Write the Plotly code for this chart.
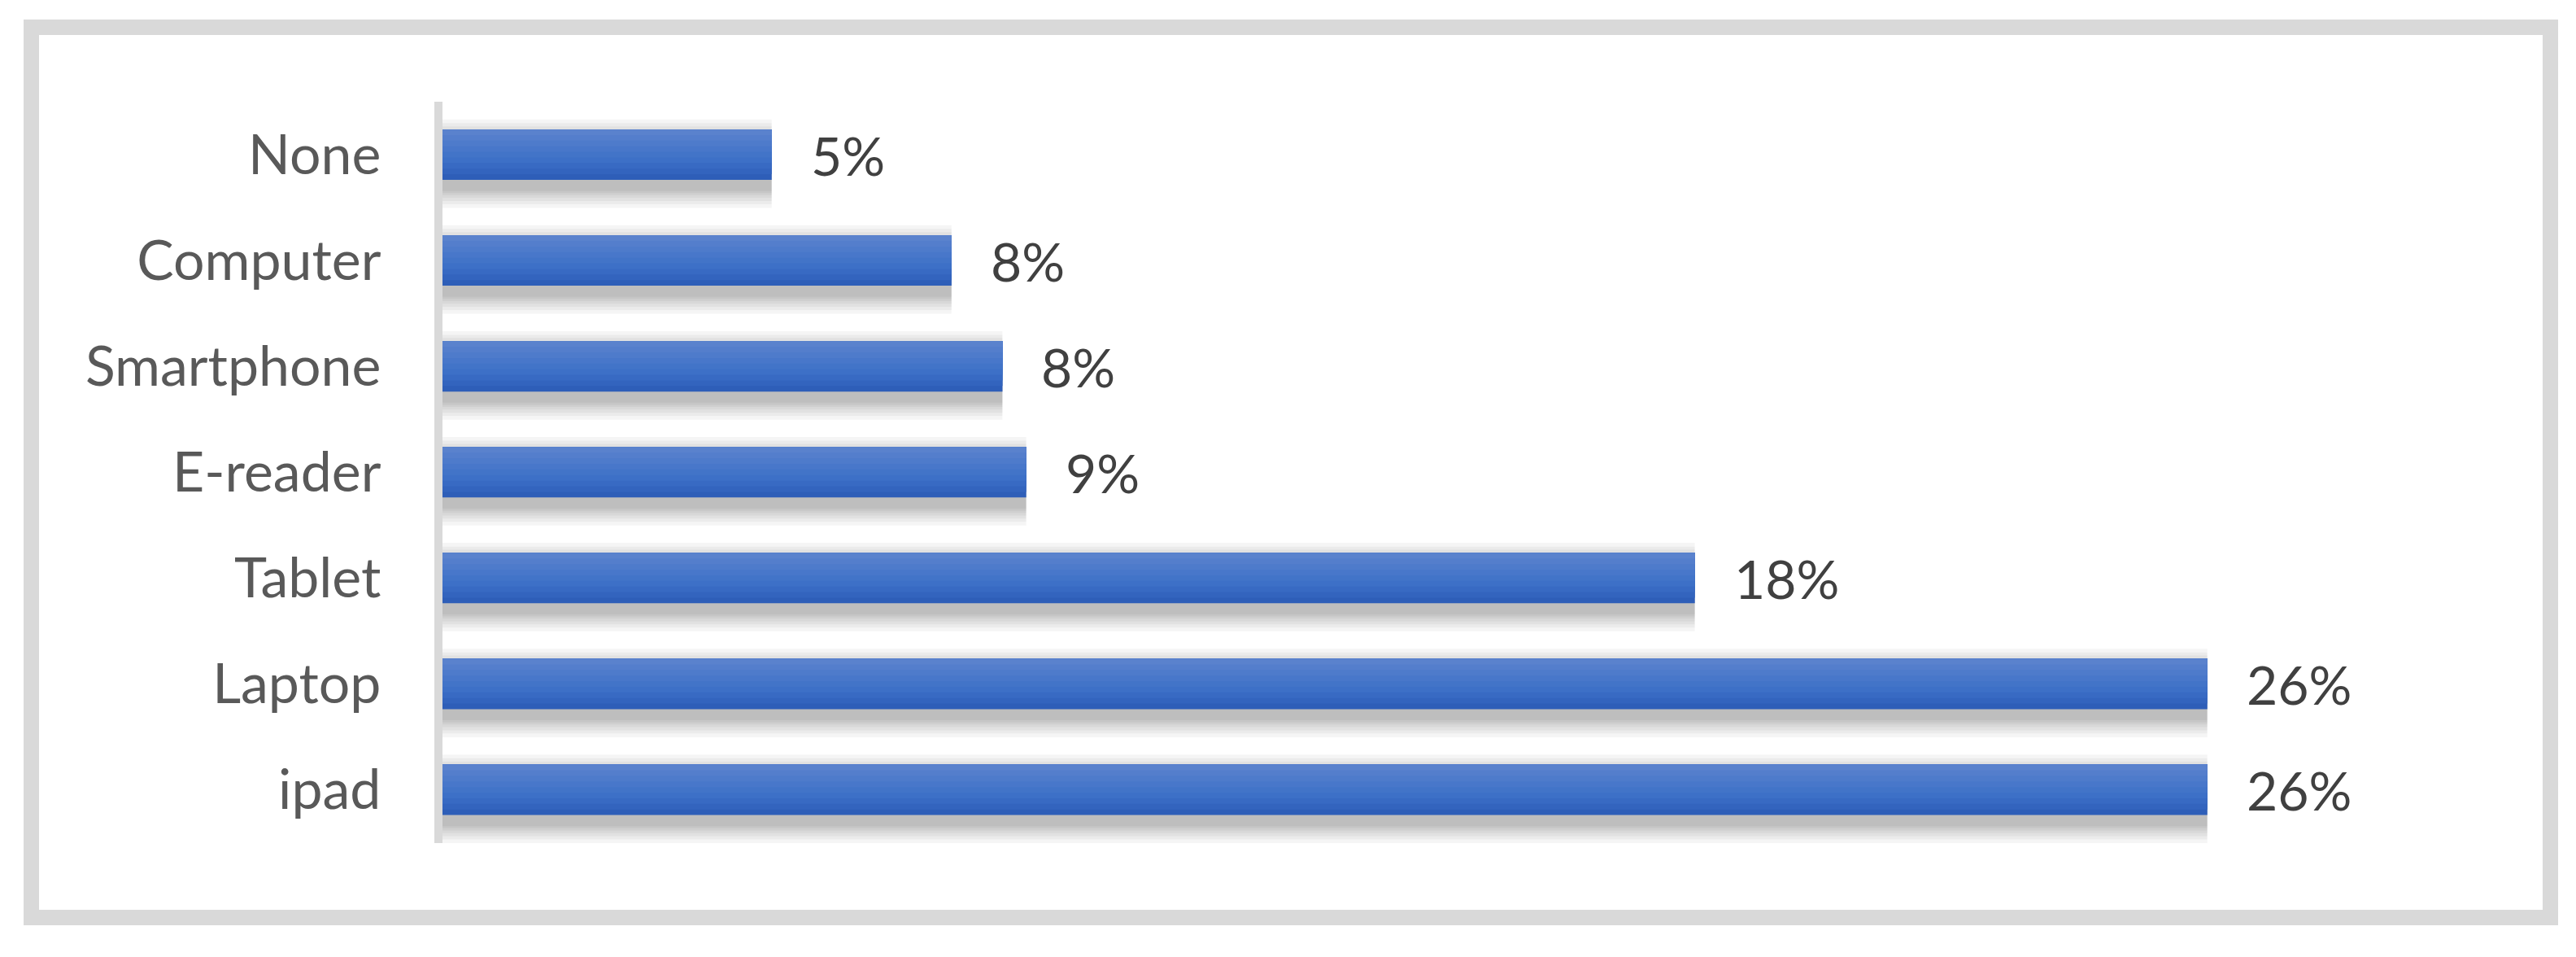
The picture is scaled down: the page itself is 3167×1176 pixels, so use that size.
import plotly.graph_objects as go

# categories bottom -> top (plotly draws first category at the bottom)
devices = ["ipad", "Laptop", "Tablet", "E-reader", "Smartphone", "Computer", "None"]
share = [26.0, 26.0, 18.45, 8.6, 8.25, 7.5, 4.85]
share_labels = ["26%", "26%", "18%", "9%", "8%", "8%", "5%"]

FONT = "Lato, 'Open Sans', sans-serif"
TICK_COLOR = "#595959"
LABEL_COLOR = "#404040"
BORDER_COLOR = "#D9D9D9"
BAR_W = 0.476

W, H = 3167, 1176
PAGE_PAD = 8  # body margin of the html page
L, R, T, B = 544 - PAGE_PAD, 167 + PAGE_PAD, 125 - PAGE_PAD, 140 + PAGE_PAD
XMAX = 29.43

fig = go.Figure()

# soft drop shadow under each bar
for extra in [0.36, 0.29, 0.23, 0.17, 0.12, 0.08, 0.04]:
    w = BAR_W + extra
    fig.add_trace(go.Bar(
        y=devices, x=share, orientation="h",
        width=w, offset=-w / 2 - 0.085,
        marker=dict(color="rgba(0,0,0,0.038)", line=dict(width=0)),
        hoverinfo="skip",
    ))

# vertical gradient: dark at bottom, lighter towards the top
grad = ["#2E5EB8", "#3364BE", "#386AC3", "#3D70C7", "#4274C8",
        "#4877CA", "#4E7BCB", "#547ECC", "#5A82CD"]
n = len(grad)
for k, col in enumerate(grad):
    h = BAR_W * (n - k) / n
    fig.add_trace(go.Bar(
        y=devices, x=share, orientation="h",
        width=h, offset=BAR_W / 2 - h,
        marker=dict(color=col, line=dict(width=0)),
        hoverinfo="skip",
    ))

for d, v, t in zip(devices, share, share_labels):
    fig.add_annotation(x=v, y=d, text=t, showarrow=False,
                       xanchor="left", yanchor="middle", xshift=46,
                       font=dict(family=FONT, size=66, color=LABEL_COLOR))

pw, ph = W - L - R, H - T - B
def px_x(p):
    return (p - PAGE_PAD - L) / pw
def px_y(p):
    return (H - B - (p - PAGE_PAD)) / ph

fig.add_shape(type="rect", xref="paper", yref="paper",
              x0=px_x(38.5), x1=px_x(3135.5), y0=px_y(1127.5), y1=px_y(33.5),
              line=dict(color=BORDER_COLOR, width=19), fillcolor="rgba(0,0,0,0)",
              layer="below")

fig.update_layout(
    width=W, height=H,
    margin=dict(l=L, r=R, t=T, b=B),
    barmode="overlay",
    showlegend=False,
    paper_bgcolor="white",
    plot_bgcolor="white",
    hovermode=False,
)
fig.update_xaxes(range=[0, XMAX], visible=False, fixedrange=True)
fig.update_yaxes(
    showline=True, linecolor=BORDER_COLOR, linewidth=10,
    showgrid=False, zeroline=False, ticks="",
    ticklabelstandoff=52,
    tickfont=dict(family=FONT, size=68, color=TICK_COLOR),
    fixedrange=True,
)

fig.write_html("out.html")
